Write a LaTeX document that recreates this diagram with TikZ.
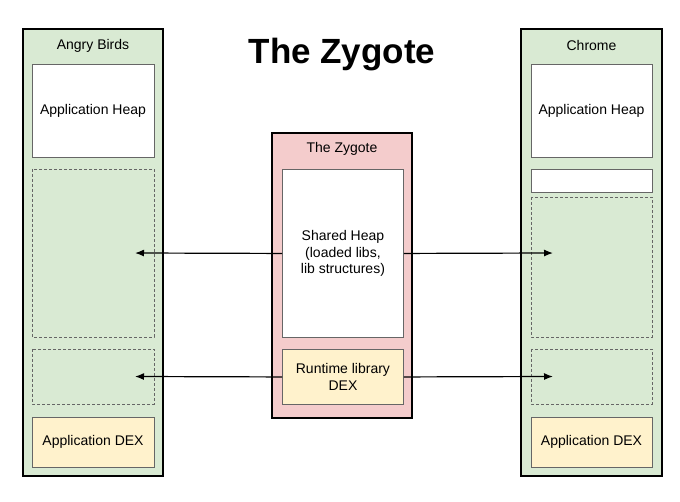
\documentclass[tikz,border=0pt]{standalone}
\usepackage{fontspec}
\setmainfont{Liberation Sans}
\usetikzlibrary{arrows.meta}
\definecolor{appgreen}{HTML}{D9EAD3}
\definecolor{zygpink}{HTML}{F4CCCC}
\definecolor{dexyellow}{HTML}{FFF2CC}
\definecolor{innerline}{HTML}{666666}
\tikzset{
  box/.style={draw=black, line width=1.2pt, fill=#1},
  inner/.style={draw=innerline, line width=0.9pt, fill=#1},
  dashbox/.style={draw=innerline, line width=0.8pt, dashed, dash pattern=on 3pt off 2pt, fill=appgreen},
  lbl/.style={font=\fontsize{14}{16.5}\selectfont, align=center, inner sep=0pt},
  arr/.style={line width=1.2pt, -{Latex[length=9pt,width=7pt]}}
}
\begin{document}
\begin{tikzpicture}[x=1pt,y=-1pt]
\useasboundingbox (0,0) rectangle (680,502);
% left process
\draw[box=appgreen] (23,29) rectangle (163,476);
\node[lbl] (lt) at (93,46) {Angry Birds};
\draw[inner=white] (32,64) rectangle (154,157);
\node[lbl] (lheap) at (93,110.5) {Application Heap};
\draw[dashbox] (32,169) rectangle (154,337);
\draw[dashbox] (32,349) rectangle (154,404);
\draw[inner=dexyellow] (32,417) rectangle (154,467);
\node[lbl] (ldex) at (93,442) {Application DEX};
% right process
\draw[box=appgreen] (521,29) rectangle (662,476);
\node[lbl] (rt) at (591.5,46) {Chrome};
\draw[inner=white] (531,64) rectangle (652,157);
\node[lbl] (rheap) at (591.5,110.5) {Application Heap};
\draw[inner=white] (531,169) rectangle (652,192);
\draw[dashbox] (531,197) rectangle (652,337);
\draw[dashbox] (531,349) rectangle (652,404);
\draw[inner=dexyellow] (531,417) rectangle (652,467);
\node[lbl] (rdex) at (591.5,442) {Application DEX};
% zygote
\draw[box=zygpink] (272,133) rectangle (412,418);
\node[lbl] (zt) at (342,149) {The Zygote};
\node[inner=white, minimum width=121pt, minimum height=168pt, inner sep=0pt, anchor=north west, lbl, draw=innerline] (sh) at (282,169) {Shared Heap\\(loaded libs,\\lib structures)};
\node[inner=dexyellow, minimum width=121pt, minimum height=55pt, inner sep=0pt, anchor=north west, lbl, draw=innerline] (rl) at (282,349) {Runtime library\\DEX};
% title
\node[font=\fontsize{35}{40}\selectfont\bfseries, inner sep=0pt] (title) at (342,55) {The Zygote};
% arrows
\coordinate (la1) at (135,253);
\coordinate (ra1) at (553,253);
\coordinate (la2) at (135,376.5);
\coordinate (ra2) at (553,376.5);
\draw[arr] (sh.west) -- (la1);
\draw[arr] (sh.east) -- (ra1);
\draw[arr] (rl.west) -- (la2);
\draw[arr] (rl.east) -- (ra2);
\end{tikzpicture}
\end{document}
